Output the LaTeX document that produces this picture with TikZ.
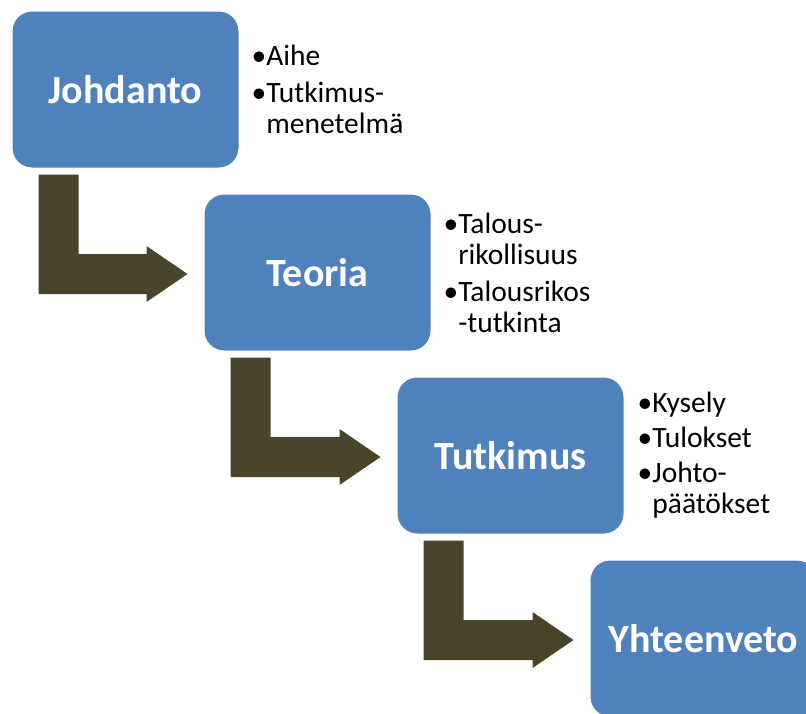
\documentclass[tikz,border=0pt]{standalone}
\usepackage{fontspec}
\setmainfont{Carlito}
\usetikzlibrary{calc}
\definecolor{stageblue}{HTML}{4F81BD}
\definecolor{arrowolive}{HTML}{4A452A}
\newcommand{\bul}{\textbullet}
\newcommand{\nobul}{\phantom{\textbullet}}
% bent arrow from the foot of one box to the side of the next
\newcommand{\bentarrow}[2]{%
	\fill[arrowolive] ($(#1.south west)+(27,6)$) -- ++(40,0)
	|- ($(#2.west)+(-57,-18.5)$) -- ++(0,-8) -- ($(#2.west)+(-16,1.5)$)
	-- ($(#2.west)+(-57,29.5)$) -- ++(0,-8)
	-| ($(#1.south west)+(27,6)$) -- cycle;}

\begin{document}
\begin{tikzpicture}[x=1pt, y=-1pt, line join=round,
	stage/.style={rectangle, rounded corners=20pt, fill=stageblue, draw=white,
		line width=1pt, minimum width=227pt, minimum height=157pt,
		text=white, font=\bfseries\fontsize{40}{42}\selectfont},
	bullets/.style={anchor=west, inner sep=0pt, align=left,
		font=\fontsize{29.5}{31}\selectfont}]
	
	\useasboundingbox (0,0) rectangle (806,713);
	\clip (0,0) rectangle (806,713);
	
	%========================
	% stages
	%========================
	\node[stage] (johdanto) at (125.5,89.5) {Johdanto};
	\node[stage] (teoria) at (317.5,272.5) {Teoria};
	\node[stage] (tutkimus) at (510.5,455.5) {Tutkimus};
	\node[stage] (yhteenveto) at (703.5,638.5) {Yhteenveto};
	
	%========================
	% bullet lists
	%========================
	\node[bullets] (johdantolist) at ($(johdanto.east)+(12,0)$)
	{\bul Aihe\\[6pt]\bul Tutkimus-\\\nobul menetelmä};
	\node[bullets] (teorialist) at ($(teoria.east)+(12,0)$)
	{\bul Talous-\\\nobul rikollisuus\\[6pt]\bul Talousrikos\\\nobul -tutkinta};
	\node[bullets] (tutkimuslist) at ($(tutkimus.east)+(13,0)$)
	{\bul Kysely\\[4pt]\bul Tulokset\\[4pt]\bul Johto-\\\nobul päätökset};
	
	%========================
	% arrows
	%========================
	\bentarrow{johdanto}{teoria}
	\bentarrow{teoria}{tutkimus}
	\bentarrow{tutkimus}{yhteenveto}
	
\end{tikzpicture}
\end{document}
